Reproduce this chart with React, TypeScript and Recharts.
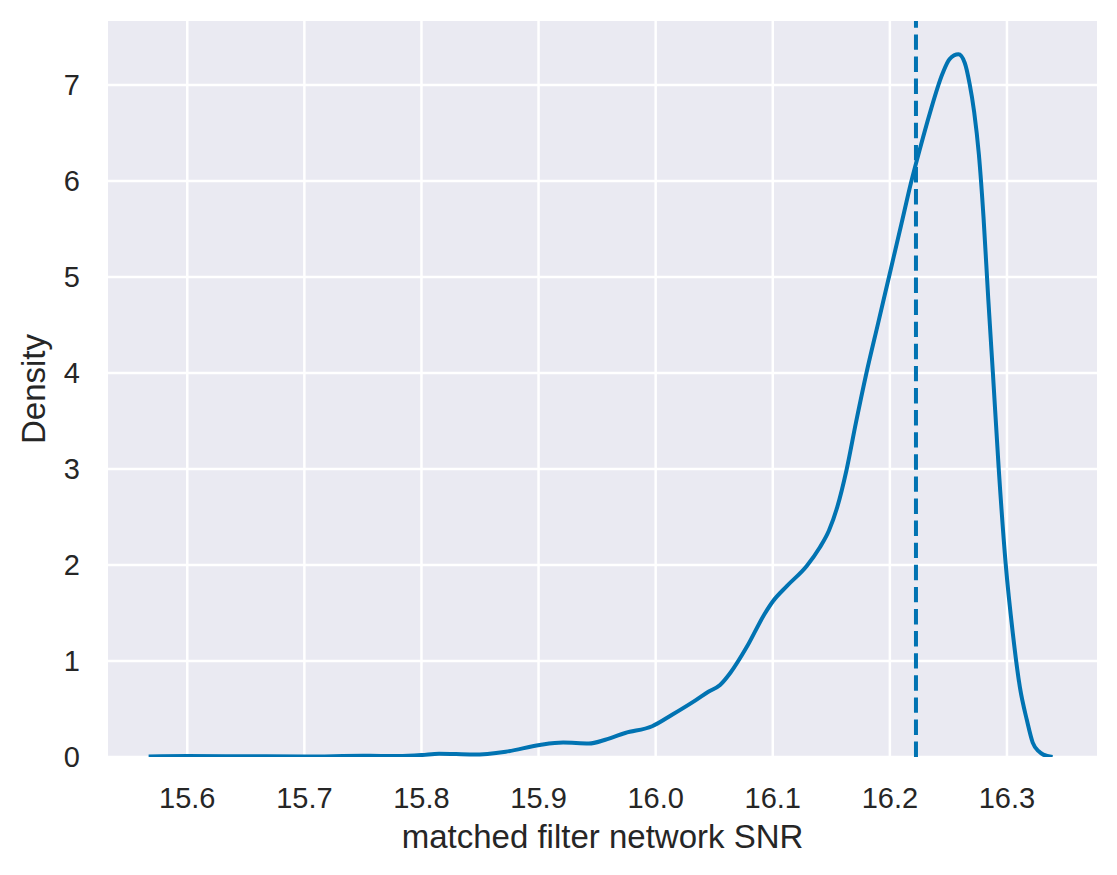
import {
    LineChart,
    Line,
    XAxis,
    YAxis,
    CartesianGrid,
    ReferenceLine,
    Label,
} from "recharts";

// values
const snr = [
    15.567, 15.6, 15.65, 15.7, 15.75, 15.78, 15.8, 15.815, 15.844, 15.872,
    15.901, 15.921, 15.943, 15.957, 15.974, 15.997, 16.014, 16.034, 16.045,
    16.055, 16.064, 16.078, 16.093, 16.1, 16.112, 16.129, 16.14, 16.148,
    16.155, 16.163, 16.171, 16.18, 16.19, 16.2, 16.21, 16.218, 16.226, 16.234,
    16.245, 16.251, 16.2586, 16.264, 16.268, 16.272, 16.276, 16.28, 16.284,
    16.288, 16.293, 16.299, 16.305, 16.311, 16.317, 16.322, 16.327, 16.331,
    16.339,
];
const density = [
    0.005, 0.01, 0.008, 0.006, 0.012, 0.01, 0.02, 0.035, 0.025, 0.055,
    0.125, 0.15, 0.14, 0.18, 0.25, 0.32, 0.44, 0.59, 0.68,
    0.75, 0.88, 1.15, 1.49, 1.62, 1.78, 1.99, 2.18, 2.36,
    2.6, 2.99, 3.48, 4.0, 4.52, 5.04, 5.56, 5.98, 6.35, 6.7,
    7.12, 7.27, 7.32, 7.23, 7.02, 6.72, 6.28, 5.62, 4.78,
    4.0, 3.0, 2.0, 1.29, 0.73, 0.385, 0.15, 0.06, 0.025,
    0.0,
];
const xTicks = [15.6, 15.7, 15.8, 15.9, 16.0, 16.1, 16.2, 16.3];
const yTicks = [0, 1, 2, 3, 4, 5, 6, 7];
const markerSnr = 16.2223;

const data = snr.map((x, i) => ({ snr: x, density: density[i] }));

const font = "'Liberation Sans', Arial, sans-serif";
const textColor = "#262626";
const blue = "#0173b2";

function DensityLabel(props: any) {
    const vb = props.viewBox;
    const x = vb.x + vb.width - 63;
    const y = vb.y + vb.height / 2;
    return (
        <text
            x={x}
            y={y}
            transform={`rotate(-90 ${x} ${y})`}
            textAnchor="middle"
            fontSize={33}
            fontFamily={font}
            fill={textColor}
        >
            Density
        </text>
    );
}

export default function App() {
    return (
        <div style={{ position: "absolute", left: 0, top: 0, background: "#fff" }}>
            <LineChart
                width={1117}
                height={875}
                data={data}
                margin={{ top: 21, right: 20, bottom: 18, left: 0 }}
            >
                <CartesianGrid
                    fill="#eaeaf2"
                    fillOpacity={1}
                    stroke="#ffffff"
                    strokeWidth={2.5}
                    horizontalValues={yTicks}
                    verticalValues={xTicks}
                />
                <XAxis
                    dataKey="snr"
                    type="number"
                    domain={[15.5323, 16.3769]}
                    ticks={xTicks}
                    allowDataOverflow
                    tickFormatter={(v: number) => v.toFixed(1)}
                    axisLine={false}
                    tickLine={false}
                    tickSize={0}
                    tickMargin={30}
                    height={100}
                    tick={{ fontSize: 29, fill: textColor, fontFamily: font }}
                >
                    <Label
                        value="matched filter network SNR"
                        position="insideBottom"
                        offset={9}
                        fontSize={33}
                        fill={textColor}
                        fontFamily={font}
                    />
                </XAxis>
                <YAxis
                    type="number"
                    domain={[0, 7.667]}
                    ticks={yTicks}
                    allowDataOverflow
                    axisLine={false}
                    tickLine={false}
                    tickSize={0}
                    tickMargin={28}
                    width={108}
                    tick={{ fontSize: 29, fill: textColor, fontFamily: font }}
                    label={{ content: DensityLabel }}
                />
                <ReferenceLine
                    x={markerSnr}
                    stroke={blue}
                    strokeWidth={4}
                    strokeDasharray="15.4 6.7"
                />
                <Line
                    type="monotone"
                    dataKey="density"
                    stroke={blue}
                    strokeWidth={4}
                    dot={false}
                    isAnimationActive={false}
                />
            </LineChart>
        </div>
    );
}
